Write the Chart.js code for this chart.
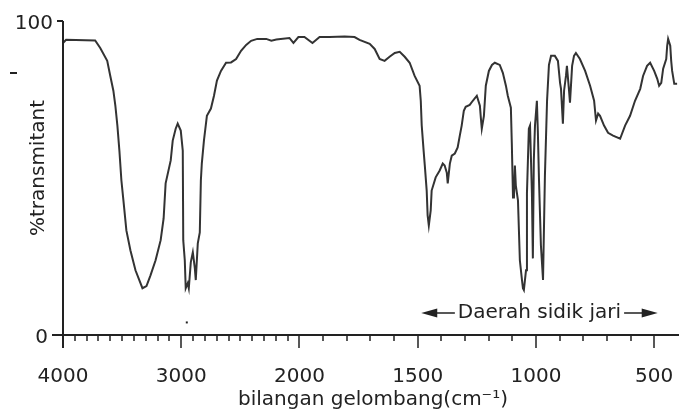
<!DOCTYPE html>
<html>
<head>
<meta charset="utf-8">
<script src="https://cdn.jsdelivr.net/npm/chart.js@4.4.1/dist/chart.umd.min.js"></script>
<style>
html, body { margin: 0; padding: 0; background: #fff; }
</style>
</head>
<body>
<canvas id="spectrum" width="679" height="411"></canvas>
<script>
// IR spectrum: wavenumber (cm-1) and %transmittance
var wavenumbers = [4000,3974,3728,3685,3626,3600,3574,3557,3540,3523,3506,3489,3464,3430,3387,3328,3294,3260,3217,3174,
    3149,3132,3089,3072,3047,3030,3004,2987,2983,2970,2962,2945,2936,2919,2902,2885,2877,2860,2843,2834,
    2826,2808,2783,2749,2723,2698,2664,2621,2579,2536,2494,2451,2409,2357,2281,2238,2196,2085,2051,2009,
    1979,1945,1915,1873,1809,1767,1746,1703,1682,1661,1640,1619,1597,1576,1555,1534,1513,1492,1487,1483,
    1475,1470,1462,1458,1453,1445,1441,1424,1407,1394,1386,1377,1373,1364,1356,1343,1331,1322,1314,1305,
    1297,1280,1267,1250,1237,1233,1229,1220,1212,1199,1186,1174,1153,1140,1127,1119,1106,1102,1097,1093,
    1089,1085,1076,1068,1059,1055,1051,1042,1038,1030,1025,1017,1013,1009,1004,996,992,987,979,970,
    962,953,945,936,920,907,898,894,886,881,873,869,860,856,847,839,831,814,792,771,
    754,746,737,729,712,695,674,644,623,602,581,559,547,530,517,500,487,479,470,462,
    449,445,441,432,428,424,415,403];
var transmittance = [93.0,94.0,93.8,91.4,87.3,82.5,77.8,73.0,66.7,58.7,49.2,42.9,33.3,27.0,20.6,14.9,15.6,19.0,23.8,30.2,
    37.1,48.3,55.6,61.9,65.7,67.3,65.1,58.7,30.2,23.8,14.9,16.5,14.9,23.2,26.3,21.3,17.5,29.2,32.7,49.2,
    54.6,61.9,69.8,72.1,76.2,81.0,84.1,86.7,86.8,87.9,90.5,92.4,93.7,94.3,94.3,93.7,94.1,94.6,93.0,94.9,
    94.9,93.0,94.9,94.9,95.1,94.9,94.0,92.7,91.1,87.9,87.3,88.6,89.8,90.2,88.6,86.7,82.5,79.4,74.6,66.7,
    58.7,54.0,46.0,38.1,34.9,39.7,46.0,50.2,52.4,54.6,54.0,51.7,48.3,54.6,57.1,57.8,59.7,63.5,66.7,71.4,
    72.7,73.3,74.6,76.2,73.0,69.2,65.7,69.8,79.4,84.1,86.0,86.7,86.0,83.5,79.4,76.2,72.4,61.0,43.8,43.8,
    54.0,47.6,42.9,23.8,17.5,14.9,14.3,20.6,45.1,65.7,66.7,45.1,24.4,55.6,66.7,74.6,65.1,49.2,28.6,17.5,
    50.8,74.6,86.0,88.9,88.9,87.3,80.3,78.4,67.3,77.8,82.5,85.7,77.8,74.0,85.7,88.9,89.8,87.9,84.1,79.4,
    74.6,68.3,70.5,69.8,66.7,64.4,63.5,62.5,66.7,69.8,74.6,78.4,82.5,85.7,86.7,84.1,81.6,79.4,80.3,84.8,
    87.9,92.1,94.3,92.1,87.3,84.1,80.0,80.0];

// axis ticks
var majorTicks = [4000, 3000, 2000, 1500, 1000, 500];
var majorLabels = ['4000', '3000', '2000', '1500', '1000', '500'];
var yTicks = [0, 100];
var yLabels = ['0', '100'];

// texts
var xTitle = 'bilangan gelombang(cm\u207B\u00B9)';
var yTitle = '%transmitant';
var fingerprintLabel = 'Daerah sidik jari';
var fingerprintFrom = 1485;
var fingerprintTo = 485;
var fingerprintLevel = 7;

var FONT = '20px "DejaVu Sans", sans-serif';
var INK = '#222';

/*
* Spectrum axis is compressed by half above 2000 cm-1
* @param w - wavenumber
*/
function toAxis(w) {
    return w > 2000 ? 2000 + (w - 2000) / 2 : w;
}

var points = wavenumbers.map(function(w, i) {
    return { x: toAxis(w), y: transmittance[i] };
});

// draws axes, ticks, titles and the fingerprint arrow
var axesPlugin = {
    id: 'spectrumAxes',
    afterDraw: function(chart) {
        var ctx = chart.ctx;
        var xs = chart.scales.x;
        var ys = chart.scales.y;
        var left = xs.getPixelForValue(toAxis(4000));
        var y0 = ys.getPixelForValue(0);
        var y100 = ys.getPixelForValue(100);

        ctx.save();
        ctx.strokeStyle = INK;
        ctx.fillStyle = INK;
        ctx.lineWidth = 2;

        // axis lines
        ctx.beginPath();
        ctx.moveTo(left, y100);
        ctx.lineTo(left, y0 + 13);
        ctx.moveTo(left - 11, y0);
        ctx.lineTo(chart.width, y0);
        ctx.moveTo(left - 6, y100);
        ctx.lineTo(left, y100);
        ctx.stroke();

        // minor ticks every 100
        ctx.lineWidth = 1.5;
        ctx.beginPath();
        for (var w = 3900; w >= 500; w -= 100) {
            var px = Math.round(xs.getPixelForValue(toAxis(w)));
            var len = majorTicks.indexOf(w) != -1 ? 13 : 6;
            ctx.moveTo(px, y0);
            ctx.lineTo(px, y0 + len);
        }
        ctx.stroke();

        // tick labels
        ctx.font = FONT;
        ctx.textBaseline = 'alphabetic';
        ctx.textAlign = 'center';
        majorTicks.forEach(function(w, i) {
            ctx.fillText(majorLabels[i], xs.getPixelForValue(toAxis(w)), y0 + 47);
        });
        ctx.textAlign = 'right';
        yTicks.forEach(function(v, i) {
            var py = ys.getPixelForValue(v);
            ctx.fillText(yLabels[i], v == 0 ? left - 15 : left - 10, py + 8);
        });

        // titles
        ctx.textAlign = 'center';
        ctx.fillText(xTitle, 373, 405);
        ctx.save();
        ctx.translate(44, 168);
        ctx.rotate(-Math.PI / 2);
        ctx.fillText(yTitle, 0, 0);
        ctx.restore();

        // fingerprint region arrow
        var ay = ys.getPixelForValue(fingerprintLevel);
        var xa = xs.getPixelForValue(toAxis(fingerprintFrom));
        var xb = xs.getPixelForValue(toAxis(fingerprintTo));
        var tw = ctx.measureText(fingerprintLabel).width;
        var mid = (xa + xb) / 2;
        ctx.textBaseline = 'middle';
        ctx.fillText(fingerprintLabel, mid, ay);
        ctx.lineWidth = 1.5;
        ctx.beginPath();
        ctx.moveTo(xa + 10, ay);
        ctx.lineTo(mid - tw / 2 - 3, ay);
        ctx.moveTo(mid + tw / 2 + 3, ay);
        ctx.lineTo(xb - 10, ay);
        ctx.stroke();
        ctx.beginPath();
        ctx.moveTo(xa, ay);
        ctx.lineTo(xa + 16, ay - 4.5);
        ctx.lineTo(xa + 16, ay + 4.5);
        ctx.closePath();
        ctx.moveTo(xb, ay);
        ctx.lineTo(xb - 16, ay - 4.5);
        ctx.lineTo(xb - 16, ay + 4.5);
        ctx.closePath();
        ctx.fill();

        // stray marks on the scan
        ctx.fillRect(10, 72, 7, 2);
        ctx.fillRect(xs.getPixelForValue(toAxis(2953)) - 1, ys.getPixelForValue(4) - 1, 2, 2);
        ctx.restore();
    }
};

new Chart(document.getElementById('spectrum').getContext('2d'), {
    type: 'line',
    data: {
        datasets: [{
            data: points,
            borderColor: '#333',
            borderWidth: 2,
            pointRadius: 0,
            tension: 0,
            fill: false
        }]
    },
    options: {
        responsive: false,
        animation: false,
        devicePixelRatio: 1,
        layout: { padding: { left: 63, right: 0, top: 21, bottom: 76 } },
        plugins: { legend: { display: false }, tooltip: { enabled: false } },
        scales: {
            x: { type: 'linear', reverse: true, min: toAxis(395), max: toAxis(4000), display: false },
            y: { type: 'linear', min: 0, max: 100, display: false }
        }
    },
    plugins: [axesPlugin]
});
</script>
</body>
</html>
